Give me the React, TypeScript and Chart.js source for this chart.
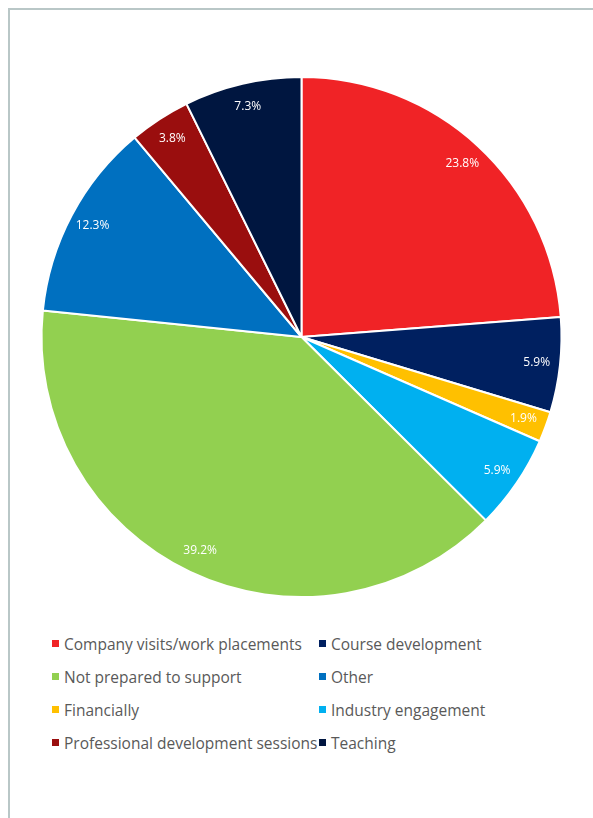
import React, { useEffect, useRef } from "react";
import { Chart, registerables } from "chart.js";

Chart.register(...registerables);

const categories = [
  "Company visits/work placements",
  "Course development",
  "Financially",
  "Industry engagement",
  "Not prepared to support",
  "Other",
  "Professional development sessions",
  "Teaching",
];
const values = [23.8, 5.9, 1.9, 5.9, 39.2, 12.3, 3.8, 7.3];
const colors = ["#F02326", "#002060", "#FFC000", "#00B0F0", "#92D050", "#0070C0", "#9A0E0E", "#001640"];
const legendOrder = [
  "Company visits/work placements",
  "Course development",
  "Not prepared to support",
  "Other",
  "Financially",
  "Industry engagement",
  "Professional development sessions",
  "Teaching",
];

const FONT = "'Open Sans', 'DejaVu Sans', sans-serif";

const labelPlugin = {
  id: "sliceLabels",
  afterDatasetsDraw(chart: any) {
    const ctx = chart.ctx;
    const meta = chart.getDatasetMeta(0);
    ctx.save();
    ctx.fillStyle = "#ffffff";
    ctx.font = `12px ${FONT}`;
    ctx.textAlign = "center";
    ctx.textBaseline = "middle";
    meta.data.forEach((arc: any, i: number) => {
      const p = arc.getProps(["x", "y", "startAngle", "endAngle", "outerRadius"], true);
      const mid = (p.startAngle + p.endAngle) / 2;
      const r = p.outerRadius * 0.91;
      const x = p.x + Math.cos(mid) * r;
      const y = p.y + Math.sin(mid) * r;
      ctx.fillText(values[i].toFixed(1) + "%", x, y);
    });
    ctx.restore();
  },
};

export default function App() {
  const ref = useRef<HTMLCanvasElement | null>(null);
  useEffect(() => {
    if (!ref.current) return;
    const chart = new Chart(ref.current, {
      type: "pie",
      data: {
        labels: categories,
        datasets: [
          {
            data: values,
            backgroundColor: colors,
            borderColor: "#ffffff",
            borderWidth: 2,
          },
        ],
      },
      options: {
        animation: false,
        responsive: false,
        maintainAspectRatio: false,
        layout: { padding: { top: 67, bottom: 11, left: 30, right: 30 } },
        plugins: {
          legend: { display: false },
          tooltip: { enabled: false },
        },
      },
      plugins: [labelPlugin],
    });
    return () => chart.destroy();
  }, []);

  const colorOf = (name: string) => colors[categories.indexOf(name)];

  return (
    <div
      style={{
        position: "absolute",
        left: 8,
        top: 8,
        width: 700,
        height: 900,
        borderLeft: "2px solid #b9c7c7",
        borderTop: "2px solid #b9c7c7",
        background: "#fff",
        boxSizing: "border-box",
        fontFamily: FONT,
      }}
    >
      <canvas
        ref={ref}
        width={585}
        height={600}
        style={{ position: "absolute", left: -1, top: -1, width: 585, height: 600 }}
      />
      <div
        style={{
          position: "absolute",
          left: 42,
          top: 622,
          display: "grid",
          gridTemplateColumns: "267px 240px",
          rowGap: 10,
        }}
      >
        {legendOrder.map((name) => (
          <div
            key={name}
            style={{ display: "flex", alignItems: "center", height: 23, whiteSpace: "nowrap" }}
          >
            <span
              style={{
                display: "inline-block",
                flex: "0 0 7px",
                width: 7,
                height: 7,
                background: colorOf(name),
                marginRight: 5,
              }}
            />
            <span style={{ fontSize: 15.5, color: "#595959" }}>{name}</span>
          </div>
        ))}
      </div>
    </div>
  );
}
